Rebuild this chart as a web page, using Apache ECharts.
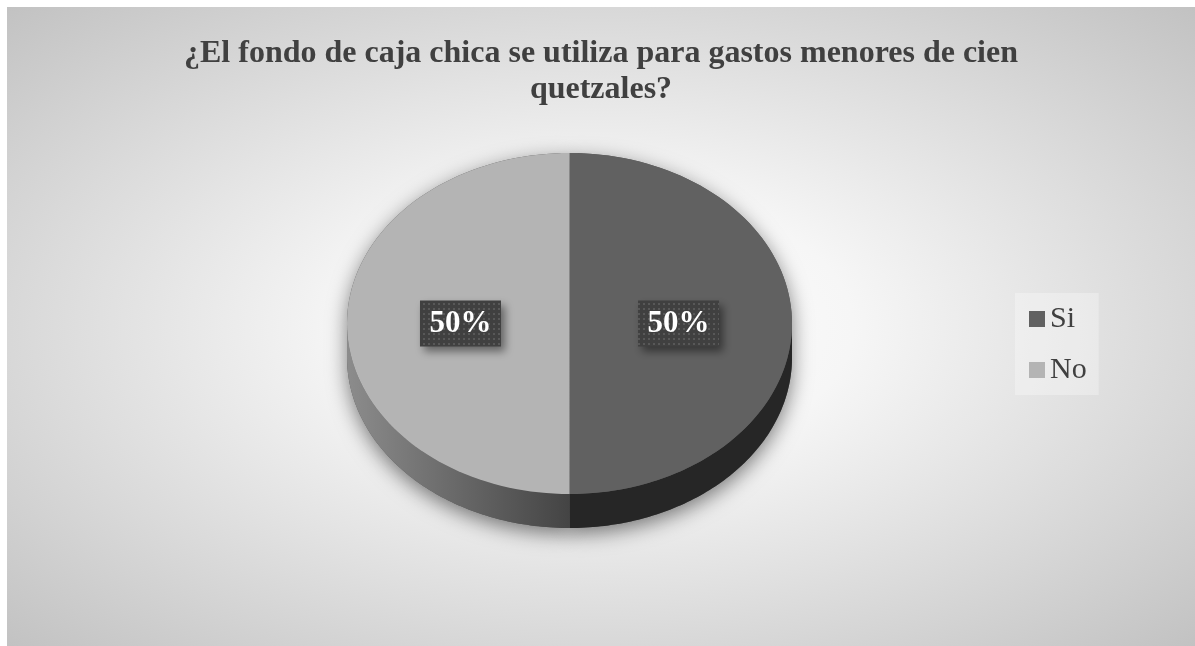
<!DOCTYPE html>
<html>
<head>
<meta charset="utf-8">
<title>Caja chica</title>
<script src="https://cdn.jsdelivr.net/npm/echarts@6/dist/echarts.min.js"></script>
<style>
  html, body { margin: 0; padding: 0; background: #ffffff; }
  #main {
    position: absolute;
    left: 7px;
    top: 7px;
    width: 1188px;
    height: 639px;
    background: radial-gradient(ellipse farthest-corner at 50% 50%, #ffffff 0%, #f6f6f6 30%, #c2c2c2 100%);
  }
</style>
</head>
<body>
<div id="main"></div>
<script>
// datos
var titleText = '¿El fondo de caja chica se utiliza para gastos menores de cien\nquetzales?'
var categories = ['Si', 'No']
var values = [50, 50]

var total = values.reduce(function (s, v) { return s + v }, 0)

// geometria del pastel (pseudo 3D)
var cx = 562.5, cy = 316.5, rx = 222.5, ry = 170.5, depth = 34
var topColors = ['#616161', '#b4b4b4']
var sideColors = [
  '#262626',
  { type: 'linear', x: 0, y: 0, x2: 1, y2: 0, colorStops: [
    { offset: 0, color: '#8c8c8c' }, { offset: 1, color: '#444444' }
  ] }
]

// patron de puntos para la etiqueta
var dots = document.createElement('canvas')
dots.width = 5
dots.height = 5
var dctx = dots.getContext('2d')
dctx.fillStyle = '#404040'
dctx.fillRect(0, 0, 5, 5)
dctx.fillStyle = '#585858'
dctx.fillRect(1, 1, 2, 2)

function pt(a, dy) {
  return [cx + rx * Math.sin(a), cy - ry * Math.cos(a) + dy]
}

function arc(a0, a1, dy) {
  var pts = []
  var n = 90
  for (var k = 0; k <= n; k++) {
    pts.push(pt(a0 + (a1 - a0) * k / n, dy))
  }
  return pts
}

function renderSlice(params, api) {
  var i = params.seriesIndex
  var before = 0
  for (var k = 0; k < i; k++) before += values[k]
  var v = api.value(0)
  var a0 = before / total * Math.PI * 2
  var a1 = (before + v) / total * Math.PI * 2

  var topPts = [[cx, cy]].concat(arc(a0, a1, 0))
  var children = []

  var s0 = Math.max(a0, Math.PI / 2)
  var s1 = Math.min(a1, Math.PI * 1.5)
  var sidePts = null
  if (s1 > s0) {
    sidePts = arc(s0, s1, 0).concat(arc(s0, s1, depth).reverse())
  }

  // sombra
  var paths = [{ type: 'polygon', shape: { points: topPts } }]
  if (sidePts) paths.push({ type: 'polygon', shape: { points: sidePts } })
  children.push({
    type: 'compoundPath',
    z2: 0,
    shape: { paths: paths },
    style: {
      fill: '#555',
      shadowBlur: 20,
      shadowOffsetY: 6,
      shadowColor: 'rgba(0,0,0,0.5)'
    }
  })

  if (sidePts) {
    children.push({
      type: 'polygon',
      z2: 1,
      shape: { points: sidePts },
      style: { fill: sideColors[i] }
    })
  }

  children.push({
    type: 'polygon',
    z2: 2,
    shape: { points: topPts },
    style: { fill: api.visual('color') }
  })

  // etiqueta
  var mid = (a0 + a1) / 2
  var lx = cx + 0.49 * rx * Math.sin(mid)
  var ly = cy - 0.49 * ry * Math.cos(mid)
  children.push({
    type: 'rect',
    z2: 3,
    shape: { x: lx - 40.5, y: ly - 23, width: 81, height: 46 },
    style: {
      fill: { image: dots, repeat: 'repeat' },
      shadowBlur: 8,
      shadowOffsetX: 4,
      shadowOffsetY: 5,
      shadowColor: 'rgba(0,0,0,0.45)'
    }
  })
  children.push({
    type: 'text',
    z2: 4,
    x: lx,
    y: ly,
    style: {
      text: Math.round(v / total * 100) + '%',
      fill: '#ffffff',
      font: 'bold 31px "Liberation Serif"',
      align: 'center',
      verticalAlign: 'middle'
    }
  })

  return { type: 'group', children: children }
}

var myChart = echarts.init(document.getElementById('main'))

myChart.setOption({
  animation: false,
  color: topColors,
  title: {
    text: titleText,
    left: 'center',
    top: 24,
    textStyle: {
      fontFamily: 'Liberation Serif',
      fontSize: 32,
      fontWeight: 'bold',
      color: '#404040',
      lineHeight: 36
    }
  },
  legend: {
    orient: 'vertical',
    left: 1008,
    top: 286,
    padding: [11, 12, 10, 14],
    backgroundColor: 'rgba(255,255,255,0.3)',
    icon: 'rect',
    itemWidth: 16,
    itemHeight: 16,
    itemGap: 21,
    data: categories,
    textStyle: {
      fontFamily: 'Liberation Serif',
      fontSize: 30,
      color: '#404040',
      lineHeight: 30
    }
  },
  series: categories.map(function (name, i) {
    return {
      name: name,
      type: 'custom',
      coordinateSystem: 'none',
      renderItem: renderSlice,
      data: [[values[i]]]
    }
  })
})
</script>
</body>
</html>
